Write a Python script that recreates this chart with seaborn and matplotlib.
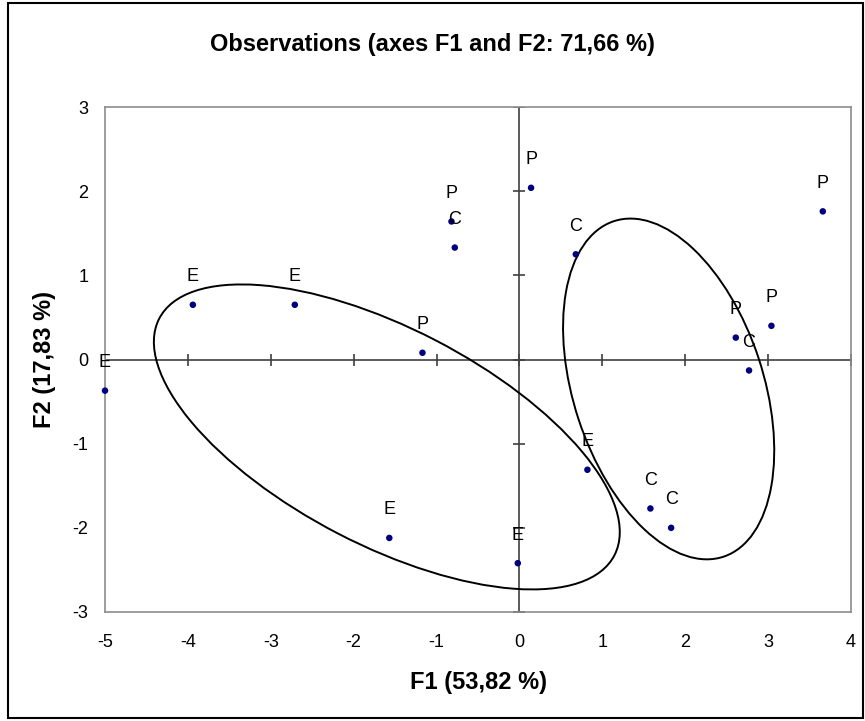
import matplotlib
matplotlib.use("Agg")
import matplotlib.pyplot as plt
from matplotlib.patches import Ellipse, Rectangle
import seaborn as sns
import pandas as pd

########### data
labels = ['E', 'E', 'E', 'E', 'E', 'E',
          'P', 'P', 'P', 'P', 'P', 'P',
          'C', 'C', 'C', 'C', 'C']
f1 = [-5.00, -3.94, -2.71, 0.82, -0.02, -1.57,
      -1.17, -0.82, 0.14, 3.66, 2.61, 3.04,
      -0.78, 0.68, 2.77, 1.58, 1.83]
f2 = [-0.37, 0.65, 0.65, -1.31, -2.42, -2.12,
      0.08, 1.64, 2.04, 1.76, 0.26, 0.40,
      1.33, 1.25, -0.13, -1.77, -2.00]

x_ticks = [-5, -4, -3, -2, -1, 0, 1, 2, 3, 4]
y_ticks = [-3, -2, -1, 0, 1, 2, 3]

# confidence ellipses: centre, width, height, angle
ell_centers = [(-1.60, -0.92), (1.80, -0.35)]
ell_widths = [6.17, 4.20]
ell_heights = [2.58, 2.29]
ell_angles = [-27.0, -71.5]

title = 'Observations (axes F1 and F2: 71,66 %)'
xlabel = 'F1 (53,82 %)'
ylabel = 'F2 (17,83 %)'

df = pd.DataFrame({'F1': f1, 'F2': f2, 'obs': labels})

########### plot
sns.set_style('white')
plt.rcParams['font.family'] = ['Liberation Sans', 'DejaVu Sans']
plt.rcParams['axes.unicode_minus'] = False
plt.rcParams['text.color'] = 'black'
plt.rcParams['axes.labelcolor'] = 'black'
plt.rcParams['xtick.color'] = 'black'
plt.rcParams['ytick.color'] = 'black'

fig = plt.figure(figsize=(8.65, 7.21), dpi=100)
ax = fig.add_axes([105 / 865, 109 / 721, 746 / 865, 505 / 721])

# outer chart frame
fig.patches.append(Rectangle((8 / 865, 3 / 721), 855 / 865, 715 / 721,
                             transform=fig.transFigure, fill=False,
                             edgecolor='black', linewidth=1.5))

ax.set_xlim(x_ticks[0], x_ticks[-1])
ax.set_ylim(y_ticks[0], y_ticks[-1])

# zero axes with crossing tick marks
ax.axhline(0, color='#404040', lw=1.2, zorder=1)
ax.axvline(0, color='#404040', lw=1.2, zorder=1)
ax.plot(x_ticks, [0] * len(x_ticks), ls='none', marker='|', ms=9,
        mew=1.2, color='#404040', zorder=1)
ax.plot([0] * len(y_ticks), y_ticks, ls='none', marker='_', ms=9,
        mew=1.2, color='#404040', zorder=1)

for c, w, h, a in zip(ell_centers, ell_widths, ell_heights, ell_angles):
    ax.add_patch(Ellipse(c, w, h, angle=a, fill=False, edgecolor='black',
                         linewidth=1.4, zorder=2))

sns.scatterplot(data=df, x='F1', y='F2', color='#000080', s=22,
                edgecolor='none', ax=ax, zorder=3, clip_on=False)

for x, y, t in zip(df.F1, df.F2, df.obs):
    ax.annotate(t, (x, y), xytext=(0, 14), textcoords='offset points',
                ha='center', va='bottom', fontsize=13, color='black')

ax.set_xticks(x_ticks)
ax.set_yticks(y_ticks)
ax.tick_params(length=0, labelsize=13, labelcolor='black')
ax.tick_params(axis='x', pad=16)
ax.tick_params(axis='y', pad=12)
for s in ax.spines.values():
    s.set_color('#8c8c8c')
    s.set_linewidth(1.2)

ax.set_xlabel(xlabel, fontsize=17, fontweight='bold', labelpad=14,
              color='black')
ax.set_ylabel(ylabel, fontsize=17, fontweight='bold', labelpad=12,
              color='black')
fig.text(0.5, 1 - 45 / 721, title, ha='center', va='center',
         fontsize=17, fontweight='bold', color='black')

fig.savefig('out.png', dpi=100)
